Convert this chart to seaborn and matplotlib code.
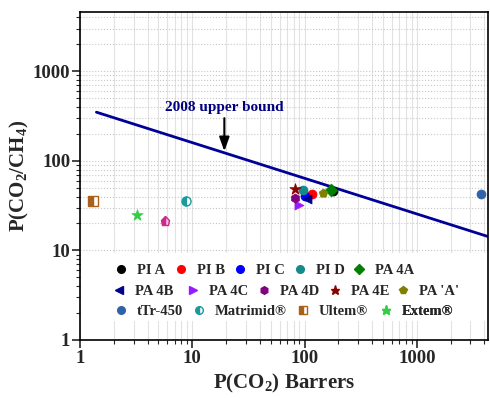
import matplotlib
matplotlib.use("Agg")
import matplotlib.pyplot as plt
import seaborn as sns
import pandas as pd
from matplotlib.lines import Line2D
from matplotlib.patches import Rectangle

# ---------------- data ----------------
names = ["PI A", "PI B", "PI C", "PI D", "PA 4A",
         "PA 4B", "PA 4C", "PA 4D", "PA 4E", "PA 'A'",
         "tTr-450", "Matrimid®", "Ultem®", "Extem®"]
p_co2 = [178, 117, 101, 96, 172,
         106, 90, 83, 83, 146,
         3700, 8.8, 1.3, 3.2]
selectivity = [46, 42.7, 40.8, 47.2, 47.5,
               37.5, 32, 38.5, 48.5, 44,
               43, 35.3, 36, 24.7]
colors = ["#000000", "#ff0000", "#0000ff", "#148a8a", "#008000",
          "#00008b", "#9a1aff", "#800080", "#8b0000", "#808000",
          "#2f62a8", "#1a9a9a", "#a8601a", "#33cc44"]
markers = ["o", "o", "o", "o", "D",
           "<", ">", "h", "*", "p",
           "o", "o", "s", "*"]
half_filled = [False] * 11 + [True, True, False]

extra_x = [5.7]
extra_y = [21.5]
extra_color = "#cc2a8a"

bound_x = [1.4, 4300]
bound_y = [350, 14.3]
arrow_x = 19.3
arrow_tip_y = 128
arrow_tail_y = 300
label_y = 330

# legend layout (pixel positions of each entry's marker centre)
legend_px_x = [121, 181, 240, 300, 359,
               119, 193, 264, 335, 403,
               121, 199, 303, 386]
legend_px_y = [270] * 5 + [291] * 5 + [311] * 4

# ---------------- style ----------------
sns.set_style("white")
plt.rcParams["font.family"] = ["Liberation Serif", "DejaVu Serif"]
plt.rcParams["font.weight"] = "bold"
plt.rcParams["mathtext.fontset"] = "custom"
plt.rcParams["mathtext.rm"] = "Liberation Serif:bold"
plt.rcParams["mathtext.it"] = "Liberation Serif:bold"
plt.rcParams["mathtext.bf"] = "Liberation Serif:bold"

W, H = 490, 398
fig = plt.figure(figsize=(W / 100, H / 100), dpi=100)
ax = fig.add_axes([80 / W, 1 - 340 / H, 408 / W, 328 / H])
ax.set_xscale("log")
ax.set_yscale("log")
ax.set_xlim(1, 4300)
ax.set_ylim(1, 4600)

# grid
ax.grid(True, which="both", axis="x", color="#e2e2e2", lw=0.8, ls="-")
ax.grid(True, which="both", axis="y", color="#c8c8c8", lw=0.8, ls=":")
ax.set_axisbelow(True)

# white band behind the legend
ax.add_patch(Rectangle((81 / W, 1 - 321 / H), 407 / W, 68 / H,
                       transform=fig.transFigure, facecolor="white",
                       edgecolor="none", zorder=1.5))

# upper bound line
df_line = pd.DataFrame({"x": bound_x, "y": bound_y})
sns.lineplot(data=df_line, x="x", y="y", ax=ax, color="#000099", lw=2,
             legend=False, zorder=2)

handles = {}
for n, x, y, c, m, hf in zip(names, p_co2, selectivity, colors, markers, half_filled):
    size = 8.5 if m == "*" else 6.5
    if hf:
        ax.plot([x], [y], marker=m, ls="none", color=c, markersize=size,
                fillstyle="left", markerfacecoloralt="white",
                markeredgecolor=c, zorder=3)
        handles[n] = Line2D([], [], marker=m, ls="none", color=c, markersize=5.5,
                            fillstyle="left", markerfacecoloralt="white",
                            markeredgecolor=c)
    else:
        d = pd.DataFrame({"x": [x], "y": [y]})
        sns.scatterplot(data=d, x="x", y="y", ax=ax, marker=m, color=c,
                        s=size ** 2, edgecolor=c, linewidth=0.5, zorder=3,
                        legend=False)
        handles[n] = Line2D([], [], marker=m, ls="none", color=c,
                            markersize=6.5 if m == "*" else 5.5)

ax.plot(extra_x, extra_y, marker="p", ls="none", color=extra_color, markersize=6.5,
        fillstyle="left", markerfacecoloralt="#f2c0dc", markeredgecolor=extra_color,
        zorder=3)

# annotation
ax.annotate("", xy=(arrow_x, arrow_tip_y), xytext=(arrow_x, arrow_tail_y),
            arrowprops=dict(arrowstyle="-|>,head_width=0.25,head_length=0.7",
                            color="black", lw=1.5, mutation_scale=12,
                            shrinkA=0, shrinkB=0))
ax.text(arrow_x, label_y, "2008 upper bound", ha="center", va="bottom",
        color="#000080", fontsize=11, fontweight="bold")

# legend: one small legend per entry, placed at its measured position
fs = 10.5
hl = 0.8
hl_px = hl * fs * 100 / 72
for n, px, py in zip(names, legend_px_x, legend_px_y):
    leg = ax.legend([handles[n]], [n], loc="center left",
                    bbox_to_anchor=((px - hl_px / 2) / W, 1 - py / H),
                    bbox_transform=fig.transFigure, frameon=False,
                    handlelength=hl, handletextpad=0.7, borderpad=0,
                    borderaxespad=0, prop={"size": fs, "weight": "bold"})
    leg.set_zorder(4)
    ax.add_artist(leg)

# axes labels and ticks
ax.set_xlabel("P(CO$_2$) Barrers", fontsize=15, fontweight="bold", labelpad=4)
ax.set_ylabel("P(CO$_2$/CH$_4$)", fontsize=15, fontweight="bold", labelpad=1)
ax.set_xticks([1, 10, 100, 1000])
ax.set_xticklabels(["1", "10", "100", "1000"])
ax.set_yticks([1, 10, 100, 1000])
ax.set_yticklabels(["1", "10", "100", "1000"])
ax.tick_params(axis="both", which="major", labelsize=13.5, length=6, width=1.2,
               direction="out", bottom=True, left=True, pad=1)
ax.tick_params(axis="both", which="minor", length=3, width=0.8,
               direction="out", bottom=True, left=True)
for lab in ax.get_xticklabels() + ax.get_yticklabels():
    lab.set_fontweight("bold")
for s in ax.spines.values():
    s.set_color("black")
    s.set_linewidth(1.2)

fig.savefig("out.png", dpi=100)
